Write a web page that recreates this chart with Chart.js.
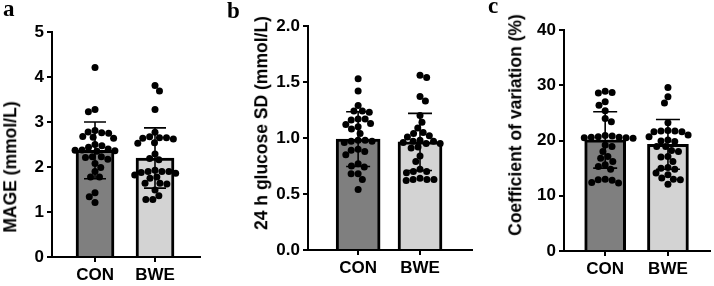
<!DOCTYPE html>
<html><head><meta charset="utf-8">
<script src="https://cdn.jsdelivr.net/npm/chart.js@4"></script>
<style>
body{margin:0;background:#fff;}
#wrap{position:relative;width:714px;height:286px;overflow:hidden;background:#fff;}
canvas{position:absolute;top:0;}
.lt{position:absolute;font:bold 23px "Liberation Serif";line-height:1;color:#000;}
.yt{position:absolute;font:bold 17.5px "Liberation Sans";line-height:1;white-space:nowrap;transform:translate(-50%,-50%) rotate(-90deg);color:#000;}
</style></head><body>
<div id="wrap">
<canvas id="ca" width="238" height="286" style="left:0"></canvas>
<canvas id="cb" width="238" height="286" style="left:238px"></canvas>
<canvas id="cc" width="238" height="286" style="left:476px"></canvas>
<div class="lt" style="left:3px;top:-3px">a</div>
<div class="lt" style="left:227px;top:-1px">b</div>
<div class="lt" style="left:488px;top:-6px">c</div>
<div class="yt" style="left:10.5px;top:167px">MAGE (mmol/L)</div>
<div class="yt" style="left:262px;top:123px">24 h glucose SD (mmol/L)</div>
<div class="yt" style="left:516px;top:125px">Coefficient of variation (%)</div>
</div>
<script>
// ---- data ----
const categories = ['CON', 'BWE'];

const mageCON = [4.21,3.28,3.23,2.81,2.76,2.78,2.75,2.66,2.68,2.64,2.50,2.44,2.47,2.38,2.36,2.37,2.35,2.40,2.23,2.17,2.23,2.21,1.99,2.08,1.90,1.78,1.78,1.43,1.34,1.21];
const mageBWE = [3.81,3.69,3.28,2.77,2.65,2.64,2.62,2.65,2.67,2.53,2.54,2.29,2.19,2.16,1.90,1.93,1.90,1.90,1.86,1.88,1.75,1.78,1.82,1.62,1.64,1.64,1.49,1.36,1.28,1.28];
const mageMean = [2.37, 2.20];
const mageSD = [0.63, 0.67];
const mageTicks = [0, 1, 2, 3, 4, 5];
const mageTickLabels = ['0', '1', '2', '3', '4', '5'];

const sdCON = [1.53,1.42,1.29,1.24,1.23,1.24,1.17,1.16,1.17,1.13,1.10,1.12,1.08,1.04,0.98,0.97,0.97,0.98,0.96,0.89,0.88,0.90,0.85,0.77,0.74,0.75,0.68,0.68,0.63,0.54];
const sdBWE = [1.56,1.54,1.37,1.33,1.20,1.14,1.09,1.05,1.04,1.02,1.01,0.98,0.97,0.96,0.97,0.95,0.95,0.92,0.91,0.84,0.79,0.72,0.70,0.70,0.69,0.64,0.63,0.63,0.62,0.63];
const sdMean = [0.99, 0.965];
const sdSD = [0.245, 0.255];
const sdTicks = [0, 0.5, 1, 1.5, 2];
const sdTickLabels = ['0.0', '0.5', '1.0', '1.5', '2.0'];

const cvCON = [28.7,28.9,28.6,27.0,26.4,25.4,24.0,23.4,20.9,20.8,20.6,20.5,20.7,20.6,20.4,20.5,19.2,18.9,18.0,17.1,16.8,16.2,15.6,14.8,15.3,12.9,13.0,12.8,12.3,12.4];
const cvBWE = [29.6,27.9,26.8,23.2,21.7,21.8,21.6,21.7,21.6,20.7,21.0,19.8,20.1,19.9,18.9,18.9,18.0,18.2,17.0,17.1,16.2,15.1,15.0,14.8,14.1,13.8,13.0,12.9,13.2,12.1];
const cvMean = [20.1, 19.3];
const cvSD = [5.1, 4.5];
const cvTicks = [0, 10, 20, 30, 40];
const cvTickLabels = ['0', '10', '20', '30', '40'];

// ---- drawing ----
const errorBars = {
  id: 'errorBars',
  beforeDatasetDraw(chart, args, opts) {
    if (args.index !== 1) return;
    const ctx = chart.ctx, xs = chart.scales.x, ys = chart.scales.y;
    ctx.save();
    ctx.strokeStyle = '#000';
    ctx.lineWidth = 1.6;
    for (let i = 0; i < opts.mean.length; i++) {
      const x = xs.getPixelForValue(i);
      const t = ys.getPixelForValue(opts.mean[i] + opts.sd[i]);
      const b = ys.getPixelForValue(opts.mean[i] - opts.sd[i]);
      ctx.beginPath();
      ctx.moveTo(x, t); ctx.lineTo(x, b);
      ctx.moveTo(x - opts.cap, t); ctx.lineTo(x + opts.cap, t);
      ctx.moveTo(x - opts.cap, b); ctx.lineTo(x + opts.cap, b);
      ctx.stroke();
    }
    ctx.restore();
  }
};

function swarm(chart, values, center, D) {
  const xs = chart.scales.x, ys = chart.scales.y;
  const ppu = xs.getPixelForValue(1) - xs.getPixelForValue(0);
  const order = values.map((v, i) => i).sort((a, b) => values[b] - values[a]);
  const placed = [], offs = new Array(values.length);
  let flip = 1;
  for (const i of order) {
    const y = ys.getPixelForValue(values[i]);
    const cands = [0];
    for (const p of placed) {
      const dy = Math.abs(p.y - y);
      if (dy < D) {
        const dx = Math.sqrt(D * D - dy * dy);
        cands.push(p.x + dx + 0.01, p.x - dx - 0.01);
      }
    }
    cands.sort((a, b) => Math.abs(a) - Math.abs(b) || (a - b) * flip);
    flip = -flip;
    let best = 0;
    for (const c of cands) {
      if (placed.every(p => (p.x - c) ** 2 + (p.y - y) ** 2 >= D * D - 0.05)) { best = c; break; }
    }
    placed.push({ x: best, y });
    offs[i] = best;
  }
  return values.map((v, i) => ({ x: center + offs[i] / ppu, y: v }));
}

function makePanel(id, g, con, bwe, mean, sd, ticks, tickLabels) {
  const font = { family: '"Liberation Sans", Arial, sans-serif', size: 17, weight: 'bold' };
  const chart = new Chart(document.getElementById(id), {
    type: 'bar',
    data: {
      datasets: [
        {
          type: 'bar', order: 3,
          data: mean.map((m, i) => ({ x: i, y: m })),
          backgroundColor: ['#7f7f7f', '#d3d3d3'],
          borderColor: '#000', borderWidth: 3, borderSkipped: 'start',
          barThickness: g.barW
        },
        { type: 'scatter', order: 2, data: con.map(v => ({ x: 0, y: v })),
          pointRadius: 3.5, pointBackgroundColor: '#000', pointBorderWidth: 0 },
        { type: 'scatter', order: 1, data: bwe.map(v => ({ x: 1, y: v })),
          pointRadius: 3.5, pointBackgroundColor: '#000', pointBorderWidth: 0 }
      ]
    },
    options: {
      responsive: false, animation: false, devicePixelRatio: 1,
      layout: { padding: { left: 0, top: g.top, right: 238 - g.right, bottom: 0 } },
      plugins: { legend: { display: false }, tooltip: { enabled: false },
        errorBars: { mean, sd, cap: g.cap } },
      scales: {
        x: {
          type: 'linear', min: g.xMin, max: g.xMax, offset: false, bounds: 'data', grace: 0,
          afterDataLimits: s => { s.min = g.xMin; s.max = g.xMax; },
          afterBuildTicks: s => { s.ticks = [{ value: 0 }, { value: 1 }]; s.min = g.xMin; s.max = g.xMax; },
          afterFit: s => { s.height = 286 - g.bottom; },
          ticks: { callback: (v, i) => categories[i], font, color: '#000', padding: 3, autoSkip: false, maxRotation: 0 },
          grid: { offset: false, drawOnChartArea: false, drawTicks: true, tickLength: 5, color: '#000', lineWidth: 2 },
          border: { color: '#000', width: 2 }
        },
        y: {
          min: ticks[0], max: ticks[ticks.length - 1],
          afterBuildTicks: s => { s.ticks = ticks.map(v => ({ value: v })); },
          afterFit: s => { s.width = g.axis; },
          ticks: { callback: (v, i) => tickLabels[i], font, color: '#000', padding: 3 },
          grid: { drawOnChartArea: false, drawTicks: true, tickLength: 5, color: '#000', lineWidth: 2 },
          border: { color: '#000', width: 2 }
        }
      }
    },
    plugins: [errorBars]
  });
  chart.data.datasets[1].data = swarm(chart, con, 0, 7);
  chart.data.datasets[2].data = swarm(chart, bwe, 1, 7);
  chart.update('none');
  return chart;
}

makePanel('ca', { axis: 52, right: 200, top: 32, bottom: 257, xMin: -0.717, xMax: 1.75, barW: 38, cap: 11 },
  mageCON, mageBWE, mageMean, mageSD, mageTicks, mageTickLabels);
makePanel('cb', { axis: 70, right: 237, top: 26, bottom: 250, xMin: -0.81, xMax: 1.84, barW: 44, cap: 12 },
  sdCON, sdBWE, sdMean, sdSD, sdTicks, sdTickLabels);
makePanel('cc', { axis: 88, right: 237, top: 30, bottom: 251, xMin: -0.656, xMax: 1.67, barW: 41, cap: 12 },
  cvCON, cvBWE, cvMean, cvSD, cvTicks, cvTickLabels);
</script>
</body></html>
